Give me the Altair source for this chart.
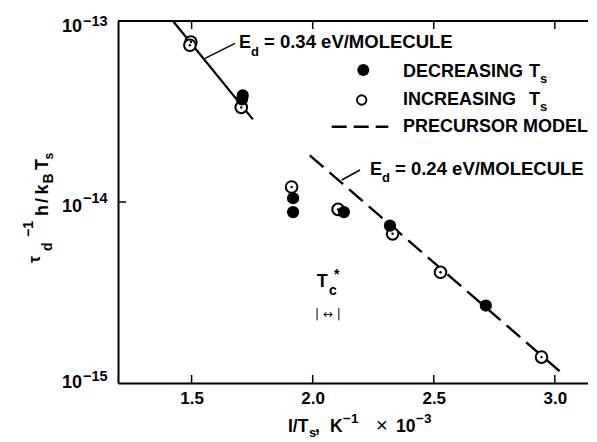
import altair as alt
import pandas as pd

# ---------------- data ----------------
dec_x = [1.711, 1.708, 1.919, 1.919, 2.129, 2.319, 2.715]
dec_y = [3.88e-14, 3.69e-14, 1.05e-14, 8.8e-15, 8.8e-15, 7.41e-15, 2.68e-15]
inc_x = [1.497, 1.493, 1.705, 1.913, 2.105, 2.330, 2.528, 2.945]
inc_y = [7.65e-14, 7.34e-14, 3.33e-14, 1.21e-14, 9.1e-15, 6.67e-15, 4.09e-15, 1.39e-15]
fit034_x = [1.423, 1.753]
fit034_y = [1.0e-13, 2.86e-14]
model_x = [1.988, 3.034]
model_y = [1.81e-14, 1.12e-15]
x_ticks = [1.5, 2.0, 2.5, 3.0]
y_ticks = [1e-13, 1e-14, 1e-15]
y_exps = ["\u221213", "\u221214", "\u221215"]

# ---------------- layout / style ----------------
FONT = "Liberation Sans"
W, H = 470, 362
PAD = {"left": 110, "top": 13, "right": 0, "bottom": 57}
OX, OY = 8 + PAD["left"], 8 + PAD["top"]

xs = alt.Scale(domain=[1.196, 3.137], nice=False, zero=False)
ys = alt.Scale(type="log", domain=[1e-15, 1e-13], nice=False)
xaxis = alt.Axis(values=x_ticks, format=".1f", ticks=False, grid=False,
                 domainColor="black", domainWidth=2, labelFont=FONT,
                 labelFontSize=17, labelFontWeight="bold", labelColor="black",
                 labelPadding=7, title=None)
yaxis = alt.Axis(labels=False, ticks=False, grid=False, domainColor="black",
                 domainWidth=2, title=None)
X = alt.X("x:Q", scale=xs, axis=xaxis)
Y = alt.Y("y:Q", scale=ys, axis=yaxis)

one = pd.DataFrame({"a": [0]})


def txt(s, px, py, size=18, weight="bold", align="left", angle=0, font=FONT):
    return alt.Chart(one).mark_text(
        text=s, font=font, fontSize=size, fontWeight=weight, align=align,
        baseline="alphabetic", angle=angle, color="black"
    ).encode(x=alt.value(px - OX), y=alt.value(py - OY))


def seg(x1, y1, x2, y2, width=1.5, dash=None):
    kw = dict(color="black", strokeWidth=width)
    if dash:
        kw["strokeDash"] = dash
    return alt.Chart(one).mark_rule(**kw).encode(
        x=alt.value(x1 - OX), y=alt.value(y1 - OY),
        x2=alt.value(x2 - OX), y2=alt.value(y2 - OY))


df_dec = pd.DataFrame({"x": dec_x, "y": dec_y})
df_inc = pd.DataFrame({"x": inc_x, "y": inc_y})
df_fit = pd.DataFrame({"x": fit034_x, "y": fit034_y})
df_model = pd.DataFrame({"x": model_x, "y": model_y})
df_xt = pd.DataFrame({"x": x_ticks})

layers = []
layers.append(alt.Chart(df_fit).mark_line(color="black", strokeWidth=2.2).encode(x=X, y=Y))
layers.append(alt.Chart(df_model).mark_line(color="black", strokeWidth=2.4,
                                            strokeDash=[18, 8]).encode(x=X, y=Y))
layers.append(alt.Chart(df_inc).mark_circle(size=135, fill="white", stroke="black",
                                            strokeWidth=2, opacity=1).encode(x=X, y=Y))
layers.append(alt.Chart(df_inc).mark_circle(size=6, color="black", opacity=1).encode(x=X, y=Y))
layers.append(alt.Chart(df_dec).mark_circle(size=150, color="black", opacity=1).encode(x=X, y=Y))

# ticks (inward) and top frame line
layers.append(alt.Chart(df_xt).mark_rule(color="black", strokeWidth=1.5).encode(
    x=X, y=alt.value(H), y2=alt.value(H - 8)))
layers.append(alt.Chart(df_xt).mark_rule(color="black", strokeWidth=1.5).encode(
    x=X, y=alt.value(0), y2=alt.value(8)))
layers.append(alt.Chart(pd.DataFrame({"y": [1e-14]})).mark_rule(
    color="black", strokeWidth=1.5).encode(y=Y, x=alt.value(0), x2=alt.value(8)))
layers.append(alt.Chart(one).mark_rule(color="black", strokeWidth=2).encode(
    x=alt.value(0), x2=alt.value(W), y=alt.value(0)))

# y tick labels 10^-n
main_dy = [11, 9.5, 4.5]
sup_dy = [4.5, 1, -2.5]
for v, e, dm, ds in zip(y_ticks, y_exps, main_dy, sup_dy):
    d = pd.DataFrame({"y": [v]})
    layers.append(alt.Chart(d).mark_text(
        text="10", font=FONT, fontSize=18, fontWeight="bold", align="right",
        baseline="alphabetic", dy=dm, color="black").encode(y=Y, x=alt.value(82 - OX)))
    layers.append(alt.Chart(d).mark_text(
        text=e, font=FONT, fontSize=14.5, fontWeight="bold", align="left",
        baseline="alphabetic", dy=ds, color="black").encode(y=Y, x=alt.value(83 - OX)))

# y axis title: tau_d^-1 h / k_B T_s (rotated)
layers += [
    txt("\u03c4", 40, 263, size=16, angle=270),
    txt("d", 52, 251, size=14, angle=270),
    txt("\u22121", 33, 237, size=14, angle=270),
    txt("h", 48, 216, size=18, angle=270),
    txt("/", 48, 203, size=18, angle=270),
    txt("k", 48, 194.5, size=18, angle=270),
    txt("B", 53, 183.5, size=14, angle=270),
    txt("T", 48, 170, size=18, angle=270),
    txt("s", 53, 159.5, size=12, angle=270),
]

# x axis title: I/T_s, K^-1 x 10^-3
layers += [
    txt("I/T", 288, 432, size=17.5),
    txt("s", 309, 437, size=13),
    txt(",", 315, 432, size=17.5),
    txt("K", 330, 432, size=17.5),
    txt("\u22121", 343, 423, size=13.5),
    txt("\u00d7", 376, 432, size=20, weight="normal"),
    txt("10", 396, 432, size=17.5),
    txt("\u22123", 416, 423, size=13.5),
]

# legend
layers.append(alt.Chart(one).mark_circle(size=145, color="black", opacity=1).encode(
    x=alt.value(363.3 - OX), y=alt.value(70 - OY)))
layers.append(alt.Chart(one).mark_circle(size=90, fill="white", stroke="black",
                                         strokeWidth=1.8, opacity=1).encode(
    x=alt.value(361.7 - OX), y=alt.value(100 - OY)))
layers.append(seg(331.7, 126.7, 388.3, 126.7, width=2.6, dash=[15, 7]))
layers += [
    txt("DECREASING", 403, 77),
    txt("T", 529, 77),
    txt("s", 540, 83, size=13),
    txt("INCREASING", 403, 105),
    txt("T", 529, 105),
    txt("s", 540, 111, size=13),
    txt("PRECURSOR MODEL", 403, 131.7),
]

# fit annotations
layers.append(seg(205, 58.3, 235, 43.3))
layers += [
    txt("E", 239, 48.3),
    txt("d", 251, 56, size=13),
    txt("= 0.34 eV/MOLECULE", 264, 48.3, size=18.5),
]
layers.append(seg(341.7, 180, 360, 170))
layers += [
    txt("E", 370, 175),
    txt("d", 382, 182, size=13),
    txt("= 0.24 eV/MOLECULE", 395, 175, size=18.5),
]

# T_c* marker
layers += [
    txt("T", 316.7, 286.7),
    txt("c", 329, 295, size=14),
    txt("*", 334, 279, size=14),
    txt("| \u2194 |", 315, 318, size=12, weight="normal", font="DejaVu Sans"),
]

chart = alt.layer(*layers).properties(
    width=W, height=H, padding=PAD,
    autosize=alt.AutoSizeParams(type="none"),
).configure_view(stroke=None)

chart.save("out.html", embed_options={"renderer": "svg", "actions": False})
